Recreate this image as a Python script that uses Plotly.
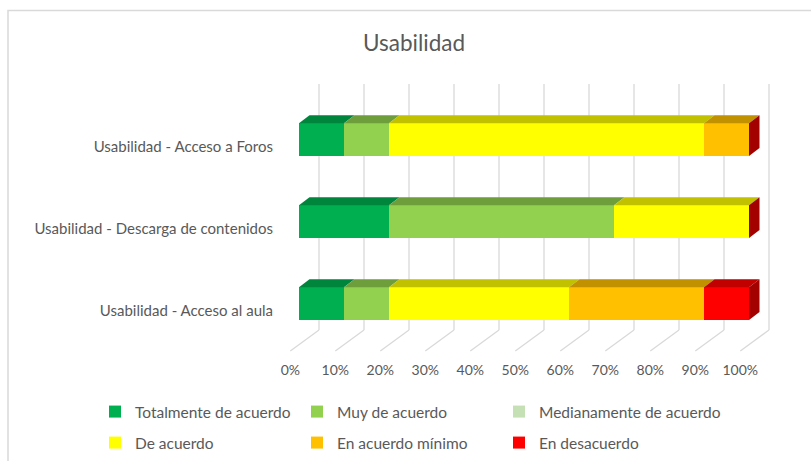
import plotly.graph_objects as go

# ---------------- data ----------------
categories = ["Usabilidad - Acceso al aula",
              "Usabilidad - Descarga de contenidos",
              "Usabilidad - Acceso a Foros"]
series_names = ["Totalmente de acuerdo", "Muy de acuerdo", "Medianamente de acuerdo",
                "De acuerdo", "En acuerdo mínimo", "En desacuerdo"]
totalmente = [10, 20, 10]
muy = [10, 50, 10]
medianamente = [0, 0, 0]
de_acuerdo = [40, 30, 70]
acuerdo_minimo = [30, 0, 10]
desacuerdo = [10, 0, 0]
tick_values = [0, 10, 20, 30, 40, 50, 60, 70, 80, 90, 100]
tick_labels = ["0%", "10%", "20%", "30%", "40%", "50%", "60%", "70%", "80%", "90%", "100%"]

series_values = [totalmente, muy, medianamente, de_acuerdo, acuerdo_minimo, desacuerdo]
colors = ["#00B050", "#92D050", "#C5E0B4", "#FFFF00", "#FFC000", "#FF0000"]


def shade(hexcol, f):
    h = hexcol.lstrip("#")
    r, g, b = (int(h[i:i + 2], 16) for i in (0, 2, 4))
    return "#%02X%02X%02X" % (int(r * f), int(g * f), int(b * f))


# ---------------- geometry (pixel layout) ----------------
W, H = 811, 461
PL, PR, PT, PB = 280, 780, 80, 360          # plot area in px
PX_PER_X = 4.5                               # px per percent
X0_PX = 299                                  # px of 0 % on front faces
x_range = [(PL - X0_PX) / PX_PER_X, (PR - X0_PX) / PX_PER_X]
PX_PER_Y = 82.0
Y0_PX = 311                                  # px of first category label
y_range = [(Y0_PX - PB) / PX_PER_Y, (Y0_PX - PT) / PX_PER_Y]

def px_to_y(p):
    return (Y0_PX - p) / PX_PER_Y

BAR_W = 0.4
BAR_SHIFT = 0.09                             # bars drawn slightly above the labels
DX = 10.5 / PX_PER_X                         # depth offset of bar top / side faces
DY = 8.0 / PX_PER_Y
BACK_DX = 20.0 / PX_PER_X                    # back wall offset
FRONT_DX = -8.7 / PX_PER_X                   # floor front edge offset
GRID_TOP = px_to_y(84)
FLOOR_BACK = px_to_y(330)
FLOOR_FRONT = px_to_y(351)

ypos = list(range(len(categories)))

# legend item positions (text start x, row centre y) in px
legend_x = [135, 337, 539, 135, 337, 539]
legend_y = [412, 412, 412, 443, 443, 443]
legend_ids = ["legend", "legend2", "legend3", "legend4", "legend5", "legend6"]

fig = go.Figure()

# front faces (stacked bars)
for i, (name, vals, col) in enumerate(zip(series_names, series_values, colors)):
    fig.add_trace(go.Bar(
        y=ypos, x=vals, name=name, orientation="h",
        width=BAR_W, offset=BAR_SHIFT - BAR_W / 2,
        marker=dict(color=col, line=dict(width=0)),
        legend=legend_ids[i],
        hovertemplate="%{x}%<extra>" + name + "</extra>",
    ))

# top faces
cum = [0.0] * len(categories)
for name, vals, col in zip(series_names, series_values, colors):
    for j, v in enumerate(vals):
        x0, x1 = cum[j], cum[j] + v
        if v > 0:
            t = ypos[j] + BAR_SHIFT + BAR_W / 2
            fig.add_trace(go.Scatter(
                x=[x0, x1, x1 + DX, x0 + DX, x0],
                y=[t, t, t + DY, t + DY, t],
                fill="toself", mode="lines", line=dict(width=0),
                fillcolor=shade(col, 0.76), showlegend=False, hoverinfo="skip"))
        cum[j] = x1

# right side face (colour of the last series in the stack)
side_col = shade(colors[-1], 0.64)
for j in range(len(categories)):
    xe = cum[j]
    b = ypos[j] + BAR_SHIFT - BAR_W / 2
    t = ypos[j] + BAR_SHIFT + BAR_W / 2
    fig.add_trace(go.Scatter(
        x=[xe, xe, xe + DX, xe + DX, xe],
        y=[b, t, t + DY, b + DY, b],
        fill="toself", mode="lines", line=dict(width=0),
        fillcolor=side_col, showlegend=False, hoverinfo="skip"))

# invisible trace for the label axis
fig.add_trace(go.Scatter(x=[None], y=[None], xaxis="x2", showlegend=False, hoverinfo="skip"))

# gridlines on back wall and floor (below the bars)
shapes = []
for v in tick_values:
    shapes.append(dict(type="line", xref="x", yref="y", layer="below",
                       x0=v + BACK_DX, x1=v + BACK_DX, y0=FLOOR_BACK, y1=GRID_TOP,
                       line=dict(color="#D9D9D9", width=1.3)))
    shapes.append(dict(type="line", xref="x", yref="y", layer="below",
                       x0=v + BACK_DX, x1=v + FRONT_DX, y0=FLOOR_BACK, y1=FLOOR_FRONT,
                       line=dict(color="#D9D9D9", width=1.3)))

# chart border
pw, ph = PR - PL, PB - PT
shapes.append(dict(type="rect", xref="paper", yref="paper", layer="below",
                   x0=(8 - PL) / pw, x1=(W + 5 - PL) / pw,
                   y0=(PB - (H + 5)) / ph, y1=(PB - 10.5) / ph,
                   line=dict(color="#D9D9D9", width=1.5), fillcolor="rgba(0,0,0,0)"))

FONT = "Lato, 'Open Sans', sans-serif"
GRAY = "#595959"

legends = {}
for lid, lx, ly in zip(legend_ids, legend_x, legend_y):
    legends[lid] = dict(orientation="h", xref="container", yref="container",
                        x=(lx - 40) / W, y=1 - ly / H, xanchor="left", yanchor="middle",
                        itemwidth=30, font=dict(family=FONT, size=15.5, color=GRAY),
                        bgcolor="rgba(0,0,0,0)")

fig.update_layout(
    width=W, height=H,
    margin=dict(l=PL, r=W - PR, t=PT, b=H - PB),
    paper_bgcolor="white", plot_bgcolor="white",
    barmode="stack",
    font=dict(family=FONT, size=14, color=GRAY),
    title=dict(text="Usabilidad", x=414 / W, xref="container", xanchor="center",
               y=1 - 43 / H, yref="container", yanchor="middle",
               font=dict(family=FONT, size=22.5, color=GRAY)),
    xaxis=dict(range=x_range, visible=False, fixedrange=True),
    xaxis2=dict(range=[r - FRONT_DX for r in x_range], overlaying="x", anchor="y",
                side="bottom", tickvals=tick_values, ticktext=tick_labels,
                showgrid=False, zeroline=False, showline=False, ticks="",
                tickfont=dict(family=FONT, size=14, color=GRAY), fixedrange=True),
    yaxis=dict(range=y_range, tickvals=ypos, ticktext=categories,
               showgrid=False, zeroline=False, showline=False, ticks="",
               ticklabelstandoff=6,
               tickfont=dict(family=FONT, size=15, color=GRAY), fixedrange=True),
    shapes=shapes,
    showlegend=True,
    **legends,
)

fig.write_html("out.html", config={"displayModeBar": False},
               post_script="document.body.style.margin='0px';")
